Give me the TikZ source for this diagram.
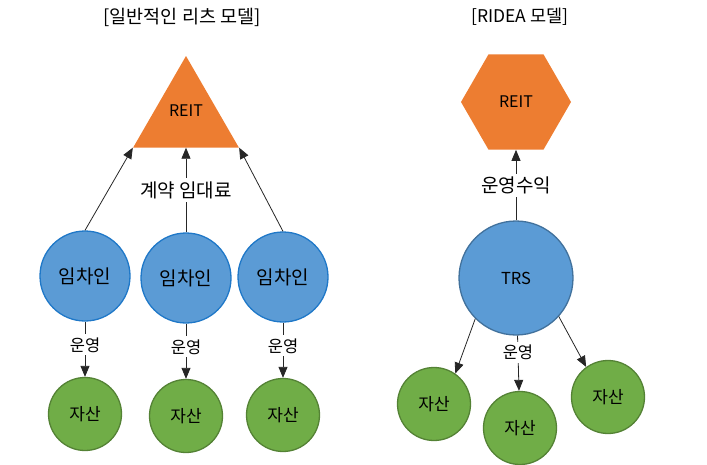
\documentclass[tikz,border=0pt]{standalone}
\usepackage{fontspec}
\setmainfont{Noto Sans CJK KR}
\usetikzlibrary{shapes.geometric,arrows.meta}
\definecolor{reitorange}{HTML}{ED7D31}
\definecolor{tenantblue}{HTML}{5B9BD5}
\definecolor{tenantline}{HTML}{1F78C8}
\definecolor{trsline}{HTML}{41719C}
\definecolor{assetgreen}{HTML}{70AD47}
\definecolor{assetline}{HTML}{548235}

\begin{document}
\begin{tikzpicture}[x=1pt,y=-1pt]
      \tikzset{
        node distance=138pt,
        tenant/.style={circle,draw=tenantline,fill=tenantblue,line width=1.3pt,inner sep=0pt,minimum size=90pt,font=\fontsize{19}{19}\selectfont},
        asset/.style={circle,draw=assetline,fill=assetgreen,line width=1.3pt,inner sep=0pt,minimum size=73pt,font=\fontsize{17}{17}\selectfont},
        lbl/.style={fill=white,inner sep=3pt,font=\fontsize{16.5}{16.5}\selectfont},
        biglbl/.style={lbl,font=\fontsize{19}{19}\selectfont},
        flow/.style={-{Triangle[length=11pt,width=9pt]},line width=0.8pt,draw=black!85}
      }
      \useasboundingbox (0,0) rectangle (707,464);

      % left: usual REIT
      \node[font=\fontsize{18.5}{18.5}\selectfont] (title1) at (182,17) {[일반적인 리츠 모델]};
      \node[regular polygon,regular polygon sides=3,fill=reitorange,inner sep=0pt,minimum size=122pt,
            label={[font=\fontsize{16}{16}\selectfont,yshift=6pt]center:REIT}] (reit) at (186,117) {};
      \node[tenant] (t1) at (85,276) {임차인};
      \node[tenant] (t2) at (186,278) {임차인};
      \node[tenant] (t3) at (283,277) {임차인};
      \node[asset, below of=t1] (a1) {자산};
      \node[asset, below of=t2] (a2) {자산};
      \node[asset, below of=t3] (a3) {자산};

      \draw (t1.north) edge[flow] (reit.corner 2)
            (t2.north) edge[flow] node[biglbl] {계약 임대료} (reit)
            (t3.north) edge[flow] (reit.corner 3)
            (t1) edge[flow] node[lbl,pos=0.42] {운영} (a1)
            (t2) edge[flow] node[lbl,pos=0.42] {운영} (a2)
            (t3) edge[flow] node[lbl,pos=0.42] {운영} (a3);

      % right: RIDEA
      \node[font=\fontsize{17.5}{17.5}\selectfont] (title2) at (520,17) {[RIDEA 모델]};
      \node[regular polygon,regular polygon sides=6,fill=reitorange,inner sep=0pt,minimum size=110pt,
            font=\fontsize{16}{16}\selectfont] (ridea) at (516,102) {REIT};
      \node[tenant,draw=trsline,minimum size=114pt,font=\fontsize{16.5}{16.5}\selectfont] (trs) at (516,278) {TRS};
      \node[asset] (ra1) at (434,404) {자산};
      \node[asset] (ra2) at (520,428) {자산};
      \node[asset] (ra3) at (608,397) {자산};

      \draw (trs) edge[flow] node[biglbl] {운영수익} (ridea)
            (trs.225) edge[flow] (ra1.55)
            (trs) edge[flow] node[lbl,pos=0.3] {운영} (ra2)
            (trs.318) edge[flow] (ra3.126);
    \end{tikzpicture}
\end{document}
